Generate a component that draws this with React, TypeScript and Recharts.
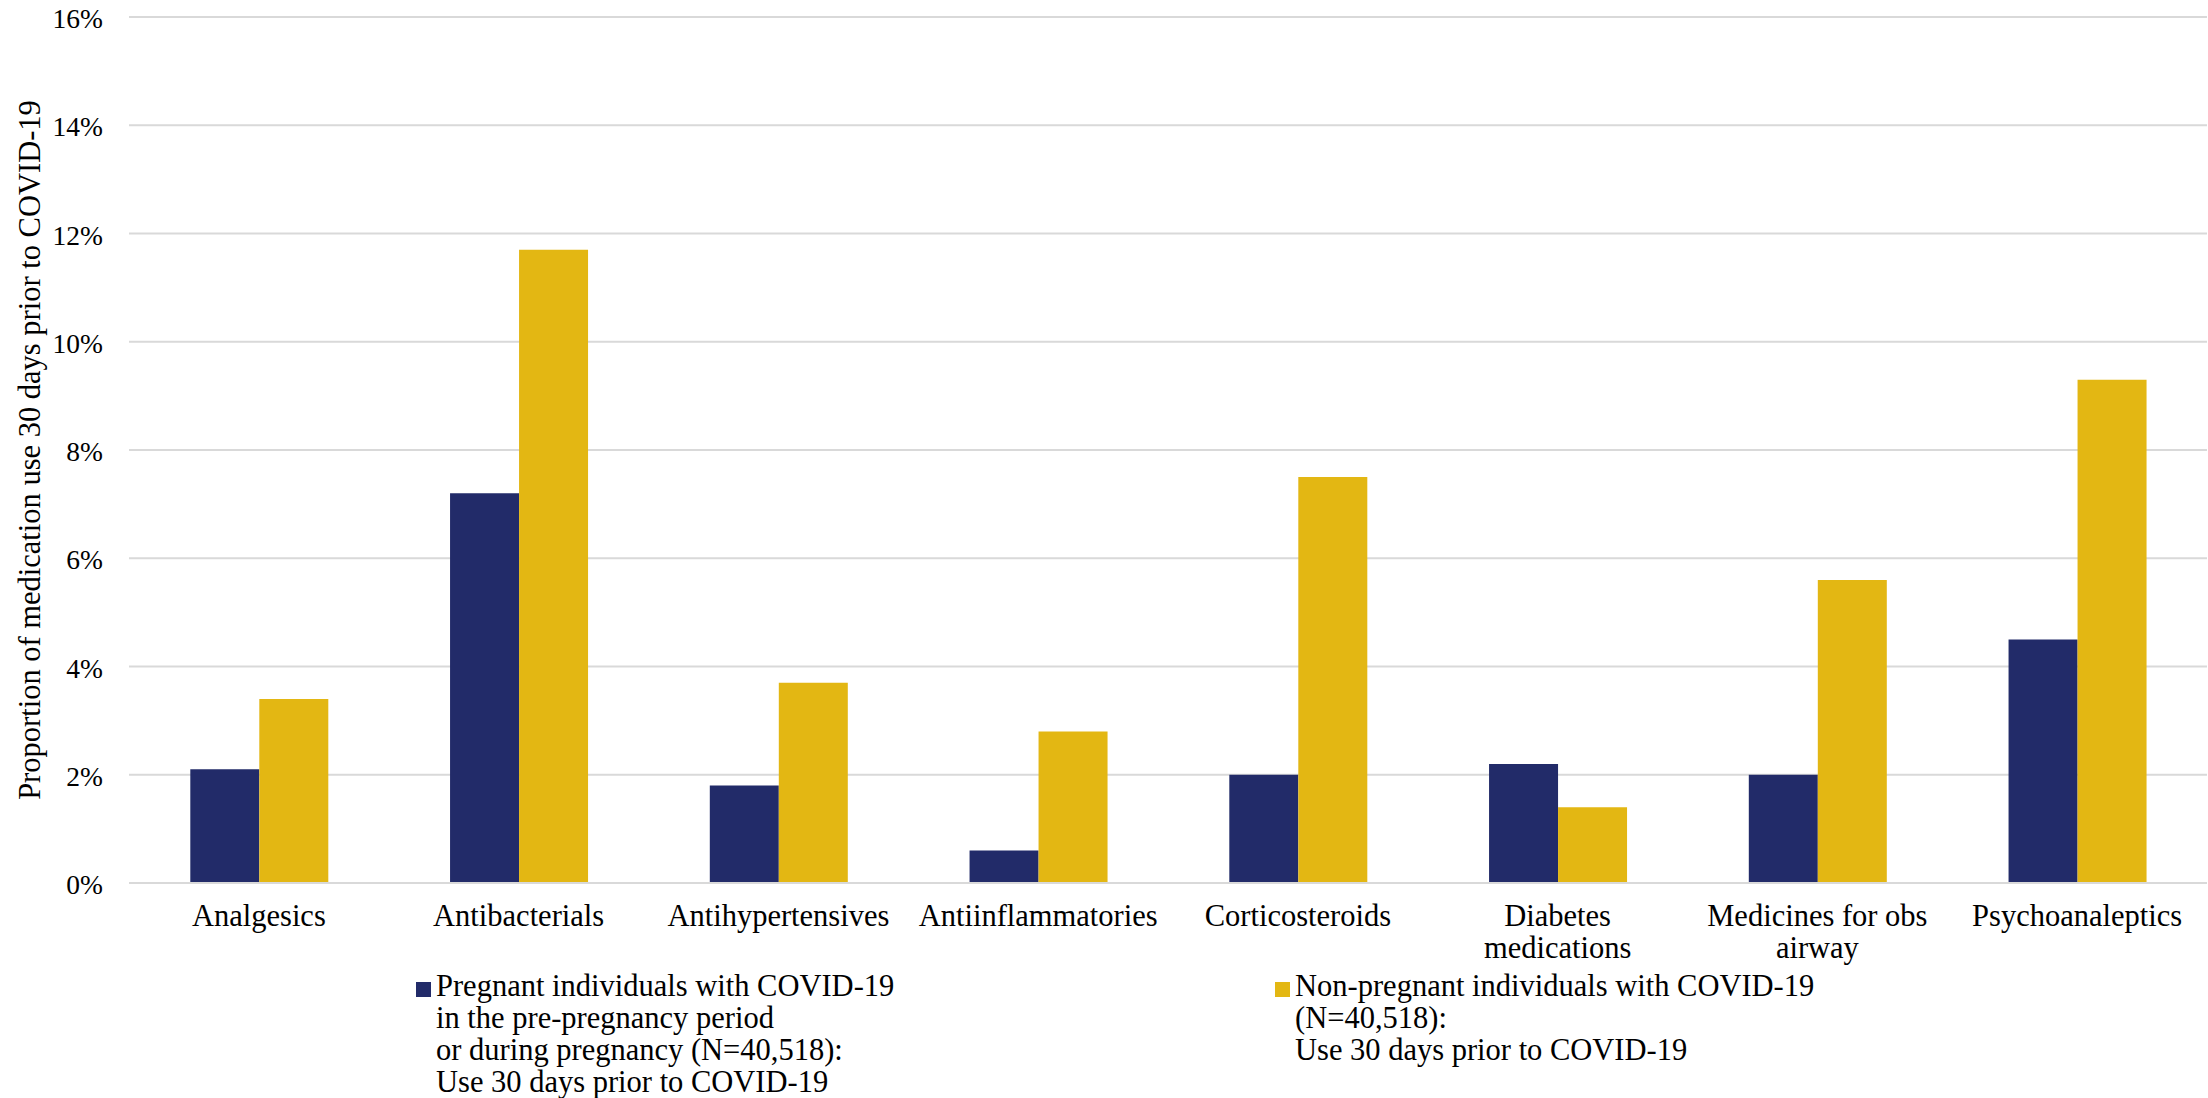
import React from 'react';
import { BarChart, Bar, XAxis, YAxis, CartesianGrid, Legend } from 'recharts';

// Medication classes on the x axis
const categories: string[] = [
  'Analgesics',
  'Antibacterials',
  'Antihypertensives',
  'Antiinflammatories',
  'Corticosteroids',
  'Diabetes medications',
  'Medicines for obs airway',
  'Psychoanaleptics',
];

// Proportion (%) with medication use in the 30 days before COVID-19
const pregnantValues: number[] = [2.1, 7.2, 1.8, 0.6, 2.0, 2.2, 2.0, 4.5];
const nonPregnantValues: number[] = [3.4, 11.7, 3.7, 2.8, 7.5, 1.4, 5.6, 9.3];

const yTicks: number[] = [0, 2, 4, 6, 8, 10, 12, 14, 16];

// Series legend text, one entry per line
const pregnantLegendLines: string[] = [
  'Pregnant individuals with COVID-19',
  'in the pre-pregnancy period',
  'or during pregnancy (N=40,518):',
  'Use 30 days prior to COVID-19',
];
const nonPregnantLegendLines: string[] = [
  'Non-pregnant individuals with COVID-19',
  '(N=40,518):',
  'Use 30 days prior to COVID-19',
];

const yAxisTitle = 'Proportion of medication use 30 days prior to COVID-19';

const NAVY = '#222B69';
const GOLD = '#E3B713';
const GRID = '#D9D9D9';
const FONT_FAMILY = '"Liberation Serif", "Times New Roman", serif';
const FONT_SIZE = 30.5;
const TICK_FONT_SIZE = 27.5;
const LINE_H = 32;
const WRAP_WIDTH = 240;

const data = categories.map((name, i) => ({
  name,
  pregnant: pregnantValues[i],
  nonPregnant: nonPregnantValues[i],
}));

const legendItems = [
  { key: 'pregnant', color: NAVY, lines: pregnantLegendLines, left: 416 },
  { key: 'nonPregnant', color: GOLD, lines: nonPregnantLegendLines, left: 1275 },
];

// Word-wrap a category label to a maximum pixel width
let measureCtx: CanvasRenderingContext2D | null = null;
function wrapLabel(text: string, maxWidth: number): string[] {
  if (!measureCtx && typeof document !== 'undefined') {
    measureCtx = document.createElement('canvas').getContext('2d');
  }
  if (!measureCtx) return [text];
  measureCtx.font = `${FONT_SIZE}px ${FONT_FAMILY}`;
  const words = text.split(' ');
  const lines: string[] = [];
  let current = '';
  words.forEach((w) => {
    const candidate = current ? `${current} ${w}` : w;
    if (current && measureCtx!.measureText(candidate).width > maxWidth) {
      lines.push(current);
      current = w;
    } else {
      current = candidate;
    }
  });
  if (current) lines.push(current);
  return lines;
}

const XTick = (props: any) => {
  const { x, y, payload } = props;
  const lines = wrapLabel(String(payload.value), WRAP_WIDTH);
  return (
    <text
      x={x}
      y={y + 43}
      textAnchor="middle"
      style={{ fontFamily: FONT_FAMILY, fontSize: FONT_SIZE, fill: '#000' }}
    >
      {lines.map((l, i) => (
        <tspan key={i} x={x} dy={i === 0 ? 0 : LINE_H}>
          {l}
        </tspan>
      ))}
    </text>
  );
};

const YTick = (props: any) => {
  const { x, y, payload } = props;
  return (
    <text
      x={x}
      y={y}
      dy="0.4em"
      textAnchor="end"
      style={{ fontFamily: FONT_FAMILY, fontSize: TICK_FONT_SIZE, fill: '#000' }}
    >
      {`${payload.value}%`}
    </text>
  );
};

const YTitle = (props: any) => {
  const { viewBox } = props;
  const cx = 40;
  const cy = viewBox.y + viewBox.height / 2;
  return (
    <text
      x={cx}
      y={cy}
      transform={`rotate(-90, ${cx}, ${cy})`}
      textAnchor="middle"
      style={{ fontFamily: FONT_FAMILY, fontSize: FONT_SIZE, fill: '#000' }}
    >
      {yAxisTitle}
    </text>
  );
};

const renderLegend = () => (
  <div style={{ position: 'relative', width: 2208, height: 128 }}>
    {legendItems.map((item) => (
      <div key={item.key}>
        <div
          style={{
            position: 'absolute',
            left: item.left,
            top: 12,
            width: 15,
            height: 15,
            background: item.color,
          }}
        />
        <div
          style={{
            position: 'absolute',
            left: item.left + 20,
            top: 0,
            fontFamily: FONT_FAMILY,
            fontSize: FONT_SIZE,
            lineHeight: `${LINE_H}px`,
            color: '#000',
            whiteSpace: 'nowrap',
          }}
        >
          {item.lines.map((l, i) => (
            <div key={i}>{l}</div>
          ))}
        </div>
      </div>
    ))}
  </div>
);

export default function App() {
  return (
    <div style={{ position: 'absolute', left: 0, top: 0, width: 2208, height: 1098, background: '#fff', overflow: 'hidden' }}>
      <BarChart
        width={2208}
        height={1098}
        data={data}
        margin={{ top: 17, right: 1, left: 0, bottom: 0 }}
        barCategoryGap="23.6%"
        barGap={0}
      >
        <CartesianGrid vertical={false} stroke={GRID} strokeWidth={2} />
        <XAxis
          dataKey="name"
          height={215}
          interval={0}
          tickLine={false}
          tickSize={0}
          tickMargin={0}
          axisLine={{ stroke: GRID, strokeWidth: 2 }}
          tick={<XTick />}
        />
        <YAxis
          width={129}
          domain={[0, 16]}
          ticks={yTicks}
          interval={0}
          axisLine={false}
          tickLine={false}
          tickSize={0}
          tickMargin={26}
          tick={<YTick />}
          label={<YTitle />}
        />
        <Legend
          layout="horizontal"
          verticalAlign="middle"
          align="center"
          content={renderLegend}
          wrapperStyle={{ position: 'absolute', left: 0, top: 970, width: 2208, height: 128 }}
        />
        <Bar dataKey="pregnant" name={pregnantLegendLines.join(' ')} fill={NAVY} isAnimationActive={false} />
        <Bar dataKey="nonPregnant" name={nonPregnantLegendLines.join(' ')} fill={GOLD} isAnimationActive={false} />
      </BarChart>
    </div>
  );
}
